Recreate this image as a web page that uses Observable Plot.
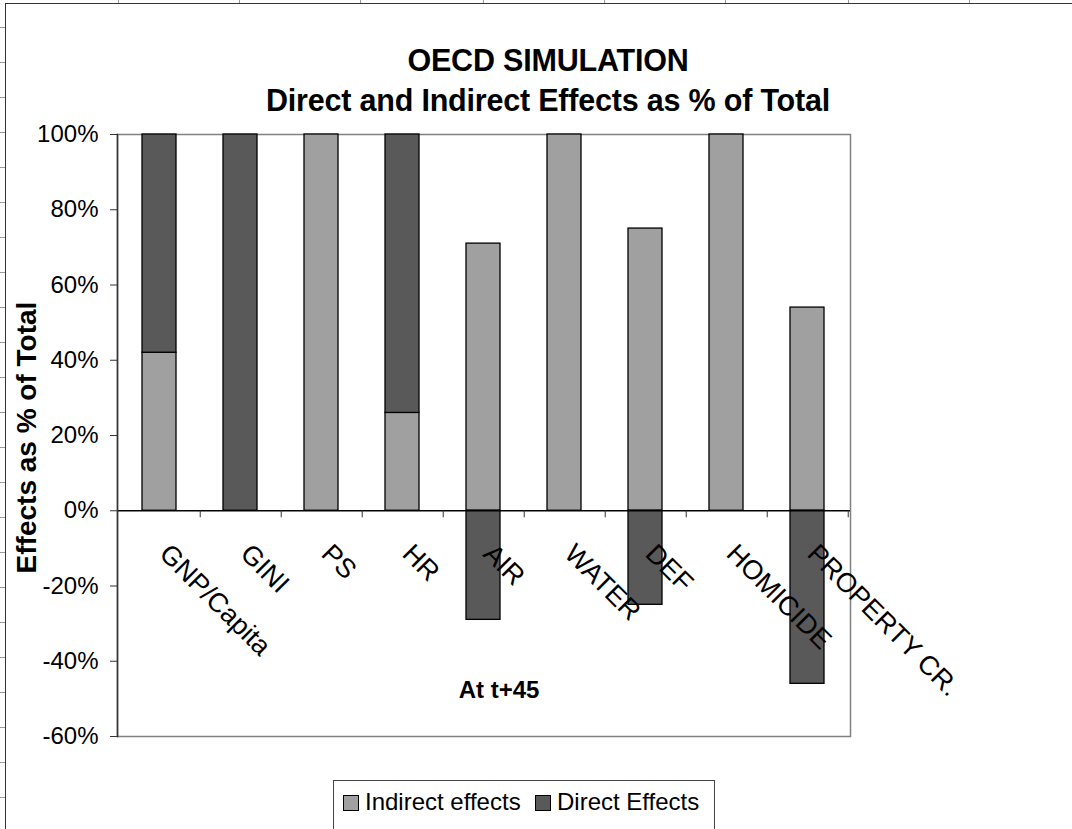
<!DOCTYPE html>
<html><head><meta charset="utf-8">
<script src="https://cdn.jsdelivr.net/npm/d3@7"></script>
<script src="https://cdn.jsdelivr.net/npm/@observablehq/plot@0.6"></script>
<style>
body{margin:0;background:#fff;font-family:"Liberation Sans",Arial,sans-serif;color:#000;}
#wrap{position:relative;width:1072px;height:829px;overflow:hidden;background:#fff;}
#chart{position:absolute;left:0;top:0;}
#frameTop{position:absolute;left:5px;top:3px;width:1100px;height:0;border-top:1.5px solid #333;}
#frameLeft{position:absolute;left:5px;top:3px;width:0;height:900px;border-left:1.5px solid #333;}
.gx{position:absolute;top:0;width:0;height:3px;border-left:1px solid #999;}
.gy{position:absolute;left:0;width:5px;height:0;border-top:1px solid #999;}
#title{position:absolute;left:0;width:1096px;top:40px;text-align:center;font-weight:bold;font-size:30.5px;line-height:40px;letter-spacing:-0.2px;}
#legend{position:absolute;left:333px;top:780px;width:382px;height:70px;border:1px solid #444;background:#fff;box-sizing:border-box;}
.item{position:absolute;top:7px;font-size:24px;line-height:28px;white-space:nowrap;}
.sw{display:inline-block;width:14px;height:14px;border:1px solid #000;vertical-align:-1px;margin-right:6px;}
</style></head>
<body>
<div id="wrap">
  <div id="frameTop"></div><div id="frameLeft"></div>
  <div id="chart"></div>
  <div id="title">OECD SIMULATION<br>Direct and Indirect Effects as % of Total</div>
  <div id="legend"></div>
</div>
<script>
// ---- data ----
const categories = ["GNP/Capita","GINI","PS","HR","AIR","WATER","DEF","HOMICIDE","PROPERTY CR."];
const indirectEffects = [0.42, 0, 1, 0.26, 0.71, 1, 0.75, 1, 0.54];
const directEffects   = [0.58, 1, 0, 0.74, -0.29, 0, -0.25, 0, -0.46];
const seriesNames = ["Indirect effects", "Direct Effects"];
const seriesColors = ["#a0a0a0", "#595959"];
const yTicks = [-0.6, -0.4, -0.2, 0, 0.2, 0.4, 0.6, 0.8, 1];
const yDomain = [-0.6, 1];
const yLabel = "Effects as % of Total";
const xLabel = "At t+45";

// ---- spreadsheet grid decoration ----
const wrap = document.getElementById("wrap");
[118,239,360,483,604,725,848,969].forEach(x=>{const d=document.createElement("div");d.className="gx";d.style.left=x+"px";wrap.appendChild(d);});
for(let y=26.7;y<829;y+=35){const d=document.createElement("div");d.className="gy";d.style.top=Math.round(y)+"px";wrap.appendChild(d);}

// ---- table ----
const rows = [];
categories.forEach((c,i)=>{
  rows.push({cat:c, series:seriesNames[0], value:indirectEffects[i]});
  rows.push({cat:c, series:seriesNames[1], value:directEffects[i]});
});
const barRows = rows.filter(d=>d.value !== 0);

// ---- layout ----
const W = 1072, H = 829;
const mL = 117, mR = 222, mT = 134, mB = 93;
const plotW = W - mL - mR;
const step = plotW / categories.length;
const yPix = d3.scaleLinear(yDomain, [H - mB, mT]);
const zeroOffset = (H - mB) - yPix(0);

const plot = Plot.plot({
  width: W, height: H,
  marginLeft: mL, marginRight: mR, marginTop: mT, marginBottom: mB,
  style: {background: "transparent", fontFamily: "'Liberation Sans', Arial, sans-serif", color: "#000"},
  x: {domain: categories, paddingInner: 0.58, paddingOuter: 0.29},
  y: {domain: yDomain},
  color: {domain: seriesNames, range: seriesColors},
  marks: [
    Plot.frame({stroke: "#808080", strokeWidth: 1.5}),
    Plot.barY(barRows, {x: "cat", y: "value", fill: "series", stroke: "#000", strokeWidth: 1.3, order: seriesNames}),
    Plot.ruleY([0], {stroke: "#000", strokeWidth: 1.3}),
    Plot.axisX({tickSize: 7, tickFormat: () => "", label: null, dx: step/2, dy: -zeroOffset, stroke: "#333"}),
    Plot.frame({anchor: "left", stroke: "#333", strokeWidth: 1.5}),
    Plot.axisY({ticks: yTicks, tickFormat: d => Math.round(d*100) + "%", tickSize: 7, tickPadding: 12, fontSize: 24, label: null, stroke: "#333"}),
    Plot.text(categories, {x: d => d, y: d => 0, text: d => d, rotate: 45, textAnchor: "start", lineAnchor: "top", dx: 12, dy: 31, fontSize: 27}),
    Plot.text([yLabel], {frameAnchor: "left", text: d => d, rotate: -90, textAnchor: "middle", dx: -90, dy: 2, fontSize: 28, fontWeight: "bold"}),
    Plot.text([xLabel], {frameAnchor: "bottom", text: d => d, dx: 15, dy: -39, fontSize: 24, fontWeight: "bold"})
  ]
});
document.getElementById("chart").appendChild(plot);

// ---- legend ----
const leg = document.getElementById("legend");
const legX = [9, 201];
seriesNames.forEach((s,i)=>{
  const it = document.createElement("div");
  it.className = "item"; it.style.left = legX[i] + "px";
  it.innerHTML = `<span class="sw" style="background:${seriesColors[i]}"></span>${s}`;
  leg.appendChild(it);
});
</script>
</body></html>
